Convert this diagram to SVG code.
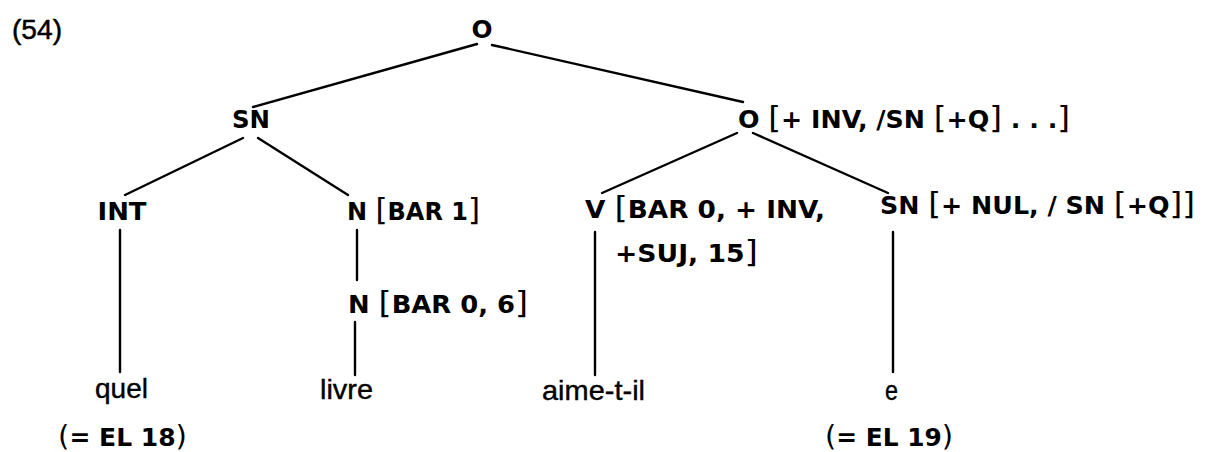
<svg xmlns="http://www.w3.org/2000/svg" width="1205" height="452" viewBox="0 0 1205 452">
<style>
.lab{font-family:"DejaVu Sans","Liberation Sans",sans-serif;font-weight:bold;font-size:24px;fill:#000}
.br{font-family:"DejaVu Sans","Liberation Sans",sans-serif;font-weight:normal;font-size:31px}
.leaf{font-family:"Liberation Sans","DejaVu Sans",sans-serif;font-size:28px;fill:#000;stroke:#000;stroke-width:0.4}
.num{font-family:"Liberation Sans","DejaVu Sans",sans-serif;font-size:28px;fill:#000;stroke:#000;stroke-width:0.5}
.edge{stroke:#000;stroke-width:2.4;fill:none;stroke-linecap:round}
</style>
<rect width="1205" height="452" fill="#fff"/>
<text class="num" x="12" y="39" textLength="50" lengthAdjust="spacingAndGlyphs">(54)</text>
<g id="connectors">
<line class="edge" x1="477" y1="44" x2="253" y2="107"/>
<line class="edge" x1="492" y1="45" x2="743" y2="102"/>
<line class="edge" x1="243" y1="138" x2="125" y2="195"/>
<line class="edge" x1="258" y1="138" x2="348" y2="195"/>
<line class="edge" x1="737" y1="133" x2="602" y2="193"/>
<line class="edge" x1="753" y1="133" x2="888" y2="193"/>
<line class="edge" x1="120" y1="230" x2="120" y2="372"/>
<line class="edge" x1="357" y1="230" x2="357" y2="280"/>
<line class="edge" x1="355" y1="322" x2="355" y2="375"/>
<line class="edge" x1="595" y1="232" x2="595" y2="375"/>
<line class="edge" x1="893" y1="232" x2="893" y2="372"/>
</g>
<g id="n-O"><text class="lab" x="482" y="38" text-anchor="middle" textLength="21" lengthAdjust="spacingAndGlyphs">O</text></g>
<g id="n-SN"><text class="lab" x="251" y="128" text-anchor="middle" textLength="38" lengthAdjust="spacingAndGlyphs">SN</text></g>
<g id="n-O2"><text class="lab" x="738" y="128" textLength="332" lengthAdjust="spacingAndGlyphs">O <tspan class="br">[</tspan>+ INV, /SN <tspan class="br">[</tspan>+Q<tspan class="br">]</tspan> . . .<tspan class="br">]</tspan></text></g>
<g id="n-INT"><text class="lab" x="122" y="220" text-anchor="middle" textLength="49" lengthAdjust="spacingAndGlyphs">INT</text></g>
<g id="n-N1"><text class="lab" x="347" y="220" textLength="133" lengthAdjust="spacingAndGlyphs">N <tspan class="br">[</tspan>BAR 1<tspan class="br">]</tspan></text></g>
<g id="n-V"><text class="lab" x="585" y="218" textLength="240" lengthAdjust="spacingAndGlyphs">V <tspan class="br">[</tspan>BAR 0, + INV,</text>
<text class="lab" x="615" y="262" textLength="143" lengthAdjust="spacingAndGlyphs">+SUJ, 15<tspan class="br">]</tspan></text></g>
<g id="n-SN2"><text class="lab" x="880" y="214" textLength="315" lengthAdjust="spacingAndGlyphs">SN <tspan class="br">[</tspan>+ NUL, / SN <tspan class="br">[</tspan>+Q<tspan class="br">]]</tspan></text></g>
<g id="n-N0"><text class="lab" x="348" y="313" textLength="180" lengthAdjust="spacingAndGlyphs">N <tspan class="br">[</tspan>BAR 0, 6<tspan class="br">]</tspan></text></g>
<g id="n-quel"><text class="leaf" x="95" y="398" textLength="53" lengthAdjust="spacingAndGlyphs">quel</text></g>
<g id="n-livre"><text class="leaf" x="320" y="399" textLength="53" lengthAdjust="spacingAndGlyphs">livre</text></g>
<g id="n-aime"><text class="leaf" x="542" y="400" textLength="103" lengthAdjust="spacingAndGlyphs">aime-t-il</text></g>
<g id="n-e"><text class="leaf" x="885" y="400" textLength="13" lengthAdjust="spacingAndGlyphs">e</text></g>
<g id="n-el18"><text class="lab" x="58" y="446" textLength="129" lengthAdjust="spacingAndGlyphs"><tspan class="br" style="font-size:28px">(</tspan>= EL 18<tspan class="br" style="font-size:28px">)</tspan></text></g>
<g id="n-el19"><text class="lab" x="825" y="446" textLength="128" lengthAdjust="spacingAndGlyphs"><tspan class="br" style="font-size:28px">(</tspan>= EL 19<tspan class="br" style="font-size:28px">)</tspan></text></g>
</svg>
